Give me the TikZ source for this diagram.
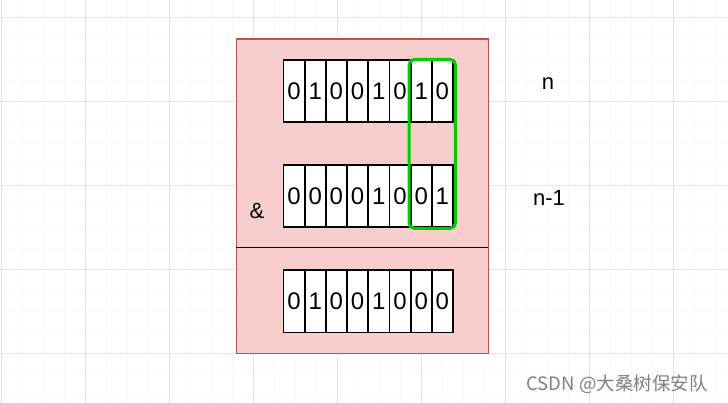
\documentclass[tikz,border=0pt]{standalone}
\usepackage{fontspec}
\setmainfont{Liberation Sans}
\newfontfamily\cjk{Noto Sans CJK SC}
\definecolor{boxfill}{HTML}{F8CECC}
\definecolor{boxline}{HTML}{B85450}
\definecolor{hilite}{HTML}{00CC00}
\definecolor{gridminor}{HTML}{F7F7F7}
\definecolor{gridmajor}{HTML}{E4E4E4}
\tikzset{
  bitcell/.style={draw=black, line width=1.8pt, fill=white, minimum width=21.2pt, minimum height=62pt, inner sep=0pt, anchor=north west, font=\fontsize{24}{24}\selectfont},
  lbl/.style={font=\fontsize{22}{22}\selectfont, inner sep=0pt},
}
\begin{document}
\begin{tikzpicture}[x=1pt,y=-1pt]
\useasboundingbox (0,0) rectangle (728,403);
\fill[white] (0,0) rectangle (728,403);
% grid
\foreach \i in {0,...,34} {
  \draw[gridminor, line width=0.8pt] ({1+21*\i},0) -- ({1+21*\i},403);
}
\foreach \j in {0,...,19} {
  \draw[gridminor, line width=0.8pt] (0,{-4+21*\j}) -- (728,{-4+21*\j});
}
\foreach \i in {0,...,8} {
  \draw[gridmajor, line width=0.8pt] ({1+84*\i},0) -- ({1+84*\i},403);
}
\foreach \j in {0,...,4} {
  \draw[gridmajor, line width=0.8pt] (0,{17+84*\j}) -- (728,{17+84*\j});
}
% outer box
\node[draw=boxline, fill=boxfill, line width=1.6pt, minimum width=252pt, minimum height=314pt, anchor=north west, inner sep=0pt] (box) at (235.5,38.5) {};
\coordinate (divL) at (235.5,247.5);
\coordinate (divR) at (487.5,247.5);
\draw[black, line width=1.6pt] (divL) -- (divR);
% rows
\foreach \b [count=\k from 0] in {0,1,0,0,1,0,1,0} {
  \node[bitcell] (a\k) at ({282.5+21.2*\k},59.5) {\b};
}
\foreach \b [count=\k from 0] in {0,0,0,0,1,0,0,1} {
  \node[bitcell] (b\k) at ({282.5+21.2*\k},164.5) {\b};
}
\foreach \b [count=\k from 0] in {0,1,0,0,1,0,0,0} {
  \node[bitcell] (c\k) at ({282.5+21.2*\k},269.5) {\b};
}
% highlight
\draw[hilite, line width=3pt, rounded corners=5pt] ([xshift=-0.5pt]a6.north west) rectangle ([xshift=1.5pt]b7.south east);
% labels
\node[lbl] (amp) at (257,211) {\&};
\node[lbl] (n) at (548,84) {n};
\node[lbl] (n1) at (549,198) {n-1};
\node[font=\cjk\fontsize{18.5}{18.5}\selectfont, text=black!50, inner sep=0pt] (wm) at (617,384) {CSDN @大桑树保安队};
\end{tikzpicture}
\end{document}
